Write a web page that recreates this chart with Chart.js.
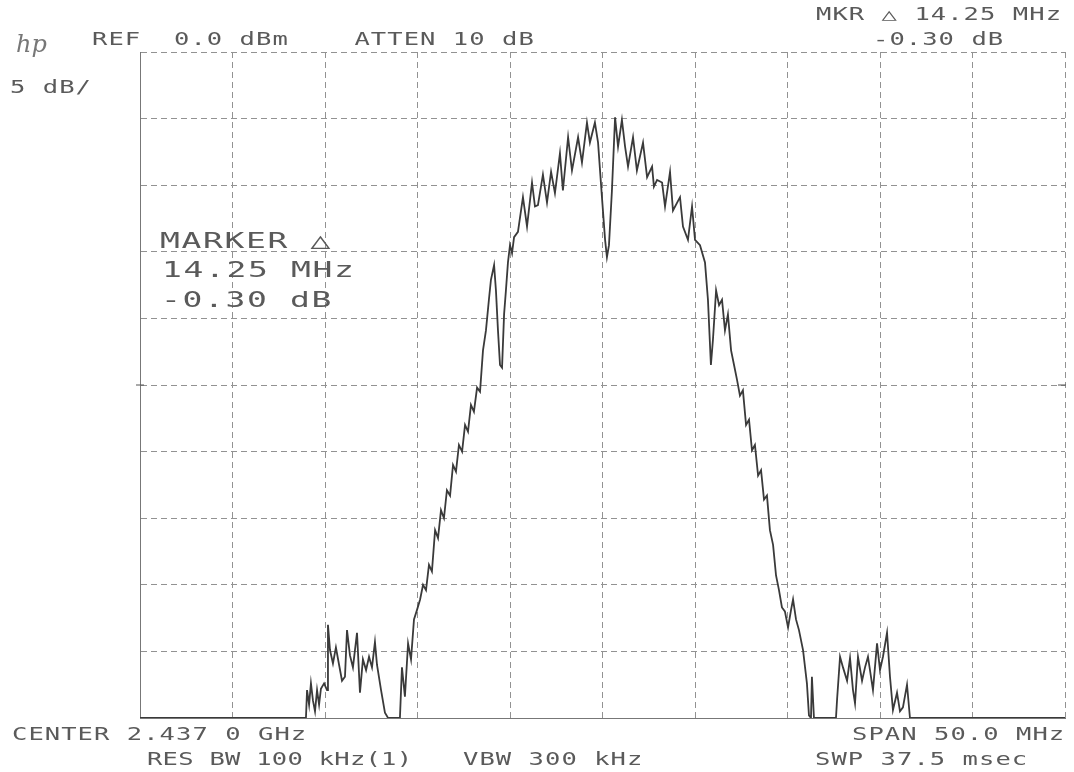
<!DOCTYPE html>
<html>
<head>
<meta charset="utf-8">
<script src="https://cdn.jsdelivr.net/npm/chart.js@4"></script>
<style>
  html, body { margin: 0; padding: 0; background: #fff; }
  #wrap { position: relative; width: 1074px; height: 772px; overflow: hidden; }
  #chart { position: absolute; left: 0; top: 0; }
  .lbl { position: absolute; white-space: pre; font-family: 'DejaVu Sans Mono', monospace; color: #5a5a5a; line-height: 1; transform-origin: 0 0; }
  .logo { position: absolute; font-family: 'DejaVu Serif', serif; font-style: italic; color: #777; line-height: 1; }
</style>
</head>
<body>
<div id="wrap">
  <canvas id="chart" width="1074" height="772"></canvas>
</div>
<script>
// --- DATA (frequency offset from center, MHz / level, dBm) ---
const freqMHz = [
  -25, -16.03, -15.97, -15.86, -15.76, -15.65, -15.54, -15.43, -15.32, -15.22, -15.05, -14.89,
  -14.84, -14.73, -14.57, -14.41, -14.24, -14.08, -13.92, -13.81, -13.65, -13.49, -13.38, -13.27,
  -13.11, -12.95, -12.78, -12.62, -12.46, -12.30, -12.19, -11.97, -11.76, -11.59, -10.95, -10.84,
  -10.68, -10.51, -10.35, -10.19, -10.03, -9.86,
  -9.70, -9.54, -9.38, -9.22, -9.05, -8.89, -8.73, -8.57, -8.41, -8.24, -8.08, -7.92, -7.76, -7.59,
  -7.43, -7.27, -7.11, -6.95, -6.78, -6.62, -6.46, -6.30, -6.14, -6.03, -5.86, -5.76, -5.65, -5.54,
  -5.43, -5.32, -5.22, -5.11, -5.00, -4.89, -4.78, -4.57, -4.30, -4.08, -3.81, -3.65, -3.49, -3.22,
  -3.00, -2.78, -2.57, -2.30, -2.14, -1.86, -1.65, -1.32, -1.11, -0.84, -0.68, -0.41, -0.24, -0.03,
  0.14, 0.24, 0.35, 0.51, 0.68, 0.84, 1.05, 1.22, 1.38, 1.65, 1.86, 2.19, 2.41, 2.68, 2.78, 2.95,
  3.22, 3.38, 3.65, 3.81, 4.19, 4.35, 4.62, 4.84, 5.00, 5.27, 5.54, 5.70, 5.86, 5.97, 6.14, 6.30,
  6.46, 6.62, 6.78, 6.95, 7.11, 7.27, 7.43, 7.59, 7.76, 7.92, 8.08, 8.24, 8.41, 8.57, 8.73, 8.89,
  9.05, 9.22, 9.38, 9.54, 9.70, 9.86, 10.03, 10.19, 10.30, 10.46, 10.62, 10.84, 11.05, 11.16, 11.27,
  11.32, 11.43, 12.62, 12.68, 12.84, 13.00, 13.22, 13.38, 13.54, 13.65, 13.81, 14.03, 14.19, 14.35,
  14.62, 14.84, 15.00, 15.16, 15.38, 15.54, 15.70, 15.92, 16.08, 16.24, 16.46, 16.62, 25
];
const levelDbm = [
  -50, -50, -47.9, -49.0, -47.4, -48.7, -49.5, -47.9, -49.0, -47.8, -47.4, -47.9,
  -43.0, -44.9, -45.9, -44.7, -46.0, -47.2, -46.9, -43.4, -45.3, -46.2, -44.9, -43.6,
  -48.1, -45.6, -46.4, -45.4, -46.2, -44.3, -46.0, -47.9, -49.6, -50, -50, -46.2,
  -48.4, -44.4, -45.6, -42.6, -41.9, -41.1,
  -40.0, -40.4, -38.5, -39.0, -35.9, -36.5, -34.4, -35.0, -32.9, -33.3, -31.0, -31.5, -29.5, -30.0,
  -28.0, -28.5, -26.5, -27.0, -25.2, -25.5, -22.4, -20.9, -18.6, -17.1, -16.0, -17.9, -20.9, -23.5,
  -23.7, -19.7, -17.9, -15.8, -14.5, -15.1, -13.9, -13.5, -10.9, -13.1, -9.8, -11.6, -11.5, -9.2,
  -11.3, -9.0, -10.6, -7.6, -10.4, -6.4, -8.9, -6.4, -8.3, -5.3, -6.8, -5.3, -6.8, -10.9,
  -14.1, -15.4, -14.5, -10.4, -4.9, -7.1, -5.1, -7.1, -8.6, -6.4, -8.9, -6.8, -9.4, -8.6, -10.1, -9.6,
  -9.8, -11.6, -9.0, -11.9, -10.9, -13.1, -14.1, -11.6, -14.1, -14.5, -15.8, -18.6, -23.5, -21.6, -17.9, -19.0,
  -18.6, -20.9, -19.7, -22.4, -23.5, -24.6, -25.8, -25.4, -28.0, -27.6, -29.9, -29.5, -31.8, -31.4, -33.6, -33.3,
  -35.9, -37.0, -39.3, -40.4, -41.7, -42.0, -43.2, -41.9, -41.1, -42.6, -43.4, -44.9, -47.4, -49.8, -50,
  -46.9, -50, -50, -48.6, -45.4, -46.2, -47.2, -45.5, -47.9, -48.9, -45.4, -47.2, -46.2, -45.4,
  -47.9, -44.4, -46.4, -45.4, -43.6, -46.9, -49.4, -48.1, -49.5, -49.2, -47.5, -50, -50
];
const spanMHz = 50;       // 10 divisions of 5 MHz
const refLevel = 0;       // dBm, top of screen
const dbPerDiv = 5;       // 10 divisions

// --- TEXT (plotter annotations) ---
const headerTexts = [
  { text: 'REF  0.0 dBm    ATTEN 10 dB', x: 92, base: 45, size: 17, pitch: 16.4 },
  { text: '5 dB/', x: 10, base: 93, size: 17, pitch: 16.4 },
  { text: 'MKR \u25B3 14.25 MHz', x: 816, base: 20, size: 17, pitch: 16.4 },
  { text: '-0.30 dB', x: 873, base: 45, size: 17, pitch: 16.4 },
  { text: 'CENTER 2.437 0 GHz', x: 12, base: 740, size: 17, pitch: 16.4 },
  { text: 'RES BW 100 kHz(1)', x: 147, base: 765, size: 17, pitch: 15.6 },
  { text: 'VBW 300 kHz', x: 463, base: 765, size: 17, pitch: 16.4 },
  { text: 'SPAN 50.0 MHz', x: 852, base: 740, size: 17, pitch: 16.4 },
  { text: 'SWP 37.5 msec', x: 815, base: 765, size: 17, pitch: 16.4 },
  { text: 'MARKER \u25B3', x: 160, base: 249, size: 22, pitch: 21.5 },
  { text: '14.25 MHz', x: 162, base: 278, size: 22, pitch: 21.5 },
  { text: '-0.30 dB', x: 161, base: 308, size: 22, pitch: 21.5 }
];
const stretch = 1.5;

const wrap = document.getElementById('wrap');
headerTexts.forEach(t => {
  const d = document.createElement('div');
  d.className = 'lbl';
  d.textContent = t.text;
  d.style.fontSize = t.size + 'px';
  d.style.left = t.x + 'px';
  d.style.top = (t.base - 0.846 * t.size) + 'px';
  d.style.letterSpacing = (t.pitch / stretch - 0.602 * t.size).toFixed(2) + 'px';
  d.style.transform = 'scaleX(' + stretch + ')';
  wrap.appendChild(d);
});
const logo = document.createElement('div');
logo.className = 'logo';
logo.textContent = 'hp';
logo.style.fontSize = '24px';
logo.style.left = '16px';
logo.style.top = '32px';
wrap.appendChild(logo);

// --- CHART ---
const points = freqMHz.map((f, i) => ({ x: f, y: levelDbm[i] }));
const gridColor = '#929292';
const noSize = (scale) => { if (scale.isHorizontal()) scale.height = 0; else scale.width = 0; };

// small "+" marks at the middle of the left and right edges of the graticule
const edgeTicks = {
  id: 'edgeTicks',
  afterDatasetsDraw(chart) {
    const { ctx, chartArea: a, scales: { y } } = chart;
    const ym = y.getPixelForValue(refLevel - 5 * dbPerDiv);
    ctx.save();
    ctx.strokeStyle = '#555';
    ctx.lineWidth = 1;
    ctx.beginPath();
    ctx.moveTo(a.left - 4, ym); ctx.lineTo(a.left + 4, ym);
    ctx.moveTo(a.right - 7, ym); ctx.lineTo(a.right + 1, ym);
    ctx.stroke();
    ctx.restore();
  }
};

new Chart(document.getElementById('chart'), {
  type: 'scatter',
  data: {
    datasets: [{
      data: points,
      showLine: true,
      borderColor: '#3a3a3a',
      borderWidth: 1.8,
      pointRadius: 0,
      tension: 0
    }]
  },
  options: {
    responsive: false,
    animation: false,
    events: [],
    layout: { padding: { left: 140, right: 9, top: 52, bottom: 54 } },
    scales: {
      x: {
        type: 'linear', min: -spanMHz / 2, max: spanMHz / 2,
        ticks: { display: false, stepSize: spanMHz / 10 },
        grid: { color: gridColor, lineWidth: 1, drawTicks: false },
        border: { display: true, color: '#777', width: 1, dash: [6, 4] },
        afterFit: noSize
      },
      y: {
        type: 'linear', min: refLevel - 10 * dbPerDiv, max: refLevel,
        ticks: { display: false, stepSize: dbPerDiv },
        grid: { color: gridColor, lineWidth: 1, drawTicks: false },
        border: { display: true, color: '#777', width: 1, dash: [6, 4] },
        afterFit: noSize
      }
    },
    plugins: { legend: { display: false }, tooltip: { enabled: false }, title: { display: false } }
  },
  plugins: [edgeTicks]
});
</script>
</body>
</html>
